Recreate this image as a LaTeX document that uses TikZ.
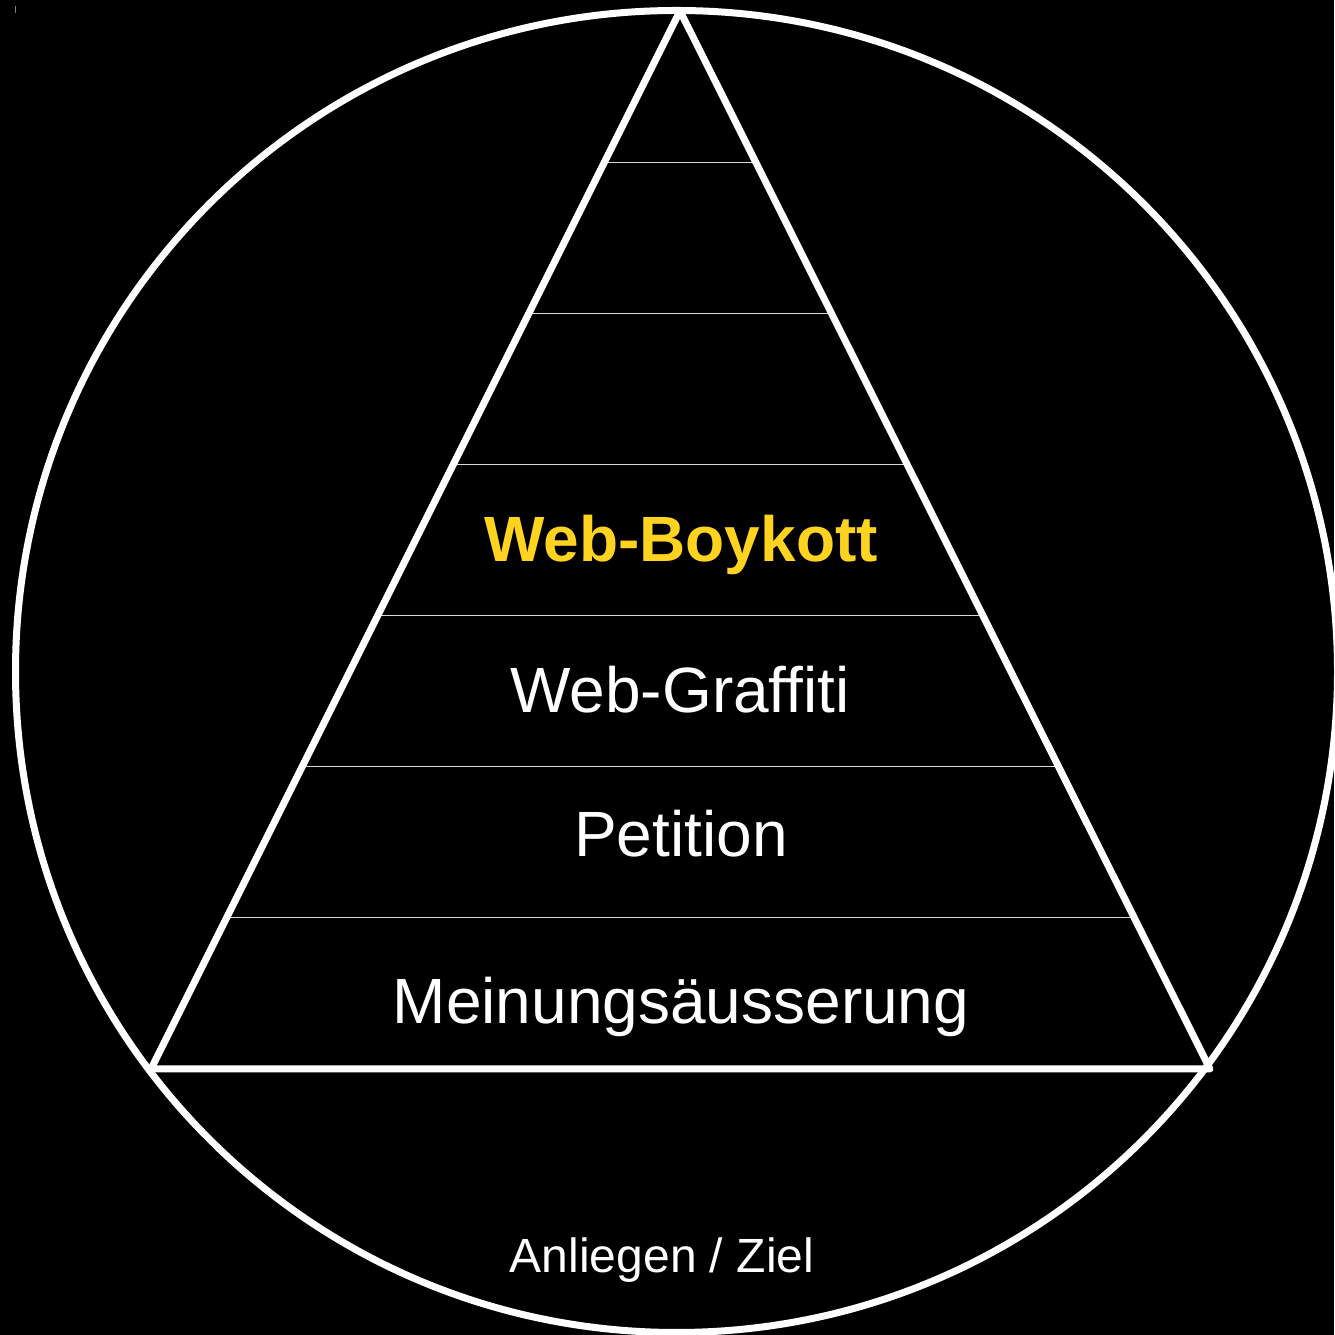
\documentclass[tikz,border=0pt]{standalone}
\usepackage{fontspec}
\setmainfont{Liberation Sans}
\usetikzlibrary{calc}
\definecolor{boygelb}{RGB}{255,211,32}
\tikzset{
  rand/.style={draw=white,line width=7pt},
  stufe/.style={draw=white!85!black,line width=1pt},
  stufentext/.style={text=white,anchor=base,font=\fontsize{64}{77}\selectfont}
}
\begin{document}
\begin{tikzpicture}[x=1pt,y=1pt]
      % Hintergrund
      \fill[black] (0,0) rectangle (1334,1335);
      \useasboundingbox (0,0) rectangle (1334,1335);
      \draw[gray,line width=1pt] (15.5,1329) -- (15.5,1322);
      % Kreis
      \draw[rand] (676.5,663.5) circle (661);
      % Pyramide
      \coordinate (spitze) at (680,1324);
      \coordinate (links) at (151,266);
      \coordinate (rechts) at (1210,266);
      \foreach \k in {1,...,6}
      \draw[stufe] ($(links)!\k/7!(spitze)$) -- ($(rechts)!\k/7!(spitze)$);
      \draw[rand,line join=round] (links) -- (spitze) -- (rechts) -- cycle;
      % Beschriftung
      \node[stufentext,text=boygelb,font=\fontsize{64}{77}\selectfont\bfseries] (boykott) at (681,773) {Web-Boykott};
      \node[stufentext] (graffiti) at (680,622) {Web-Graffiti};
      \node[stufentext] (petition) at (681,478) {Petition};
      \node[stufentext] (meinung) at (681,311) {Meinungsäusserung};
      \node[stufentext,font=\fontsize{48}{58}\selectfont] (ziel) at (662,62) {Anliegen / Ziel};
    \end{tikzpicture}
\end{document}
